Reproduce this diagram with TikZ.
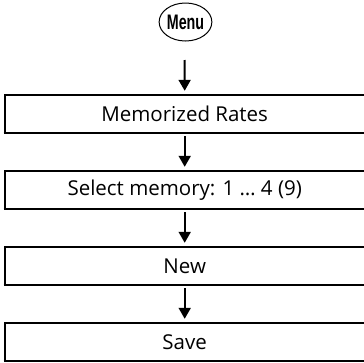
\documentclass[tikz,border=0pt]{standalone}
\usepackage{fontspec}
\setmainfont{Open Sans}
\newfontfamily\menufont[FakeStretch=0.68]{Liberation Sans}
\usetikzlibrary{arrows.meta,shapes.geometric}
\tikzset{
  x=1pt,y=-1pt,
  stepbox/.style={draw=none,minimum width=359pt,minimum height=38pt,inner sep=0pt,font=\fontsize{20.5}{24}\selectfont,anchor=west},
  boxline/.style={line width=1.5pt},
  flow/.style={line width=2pt,-{Triangle[length=11pt,width=12pt]}},
  menubtn/.style={ellipse,draw,line width=1pt,inner sep=0pt,minimum width=41pt,minimum height=38pt,font=\menufont\bfseries\fontsize{21}{23}\selectfont}
}
\begin{document}
\begin{tikzpicture}
\useasboundingbox (0,0) rectangle (364,362);
\node[menubtn] (menu) at (185.5,22) {Menu};
\node[stepbox] (b1) at (5,114) {Memorized Rates};
\node[stepbox] (b2) at (5,190) {Select memory: 1 … 4 (9)};
\node[stepbox] (b3) at (5,266) {New};
\node[stepbox] (b4) at (5,342) {Save};
\foreach \b in {b1,b2,b3,b4}{
  \draw[boxline] ([xshift=-1.5pt]\b.south west) -- ([xshift=5pt]\b.south east);
  \draw[boxline] ([xshift=5pt]\b.north east) -- (\b.north west) -- (\b.south west);
}
\coordinate (a1s) at (184.5,60);
\draw[flow] (a1s) -- ([yshift=4pt]b1.north);
\draw[flow] ([yshift=-3pt]b1.south) -- ([yshift=4pt]b2.north);
\draw[flow] ([yshift=-3pt]b2.south) -- ([yshift=4pt]b3.north);
\draw[flow] ([yshift=-3pt]b3.south) -- ([yshift=4pt]b4.north);
\end{tikzpicture}
\end{document}
